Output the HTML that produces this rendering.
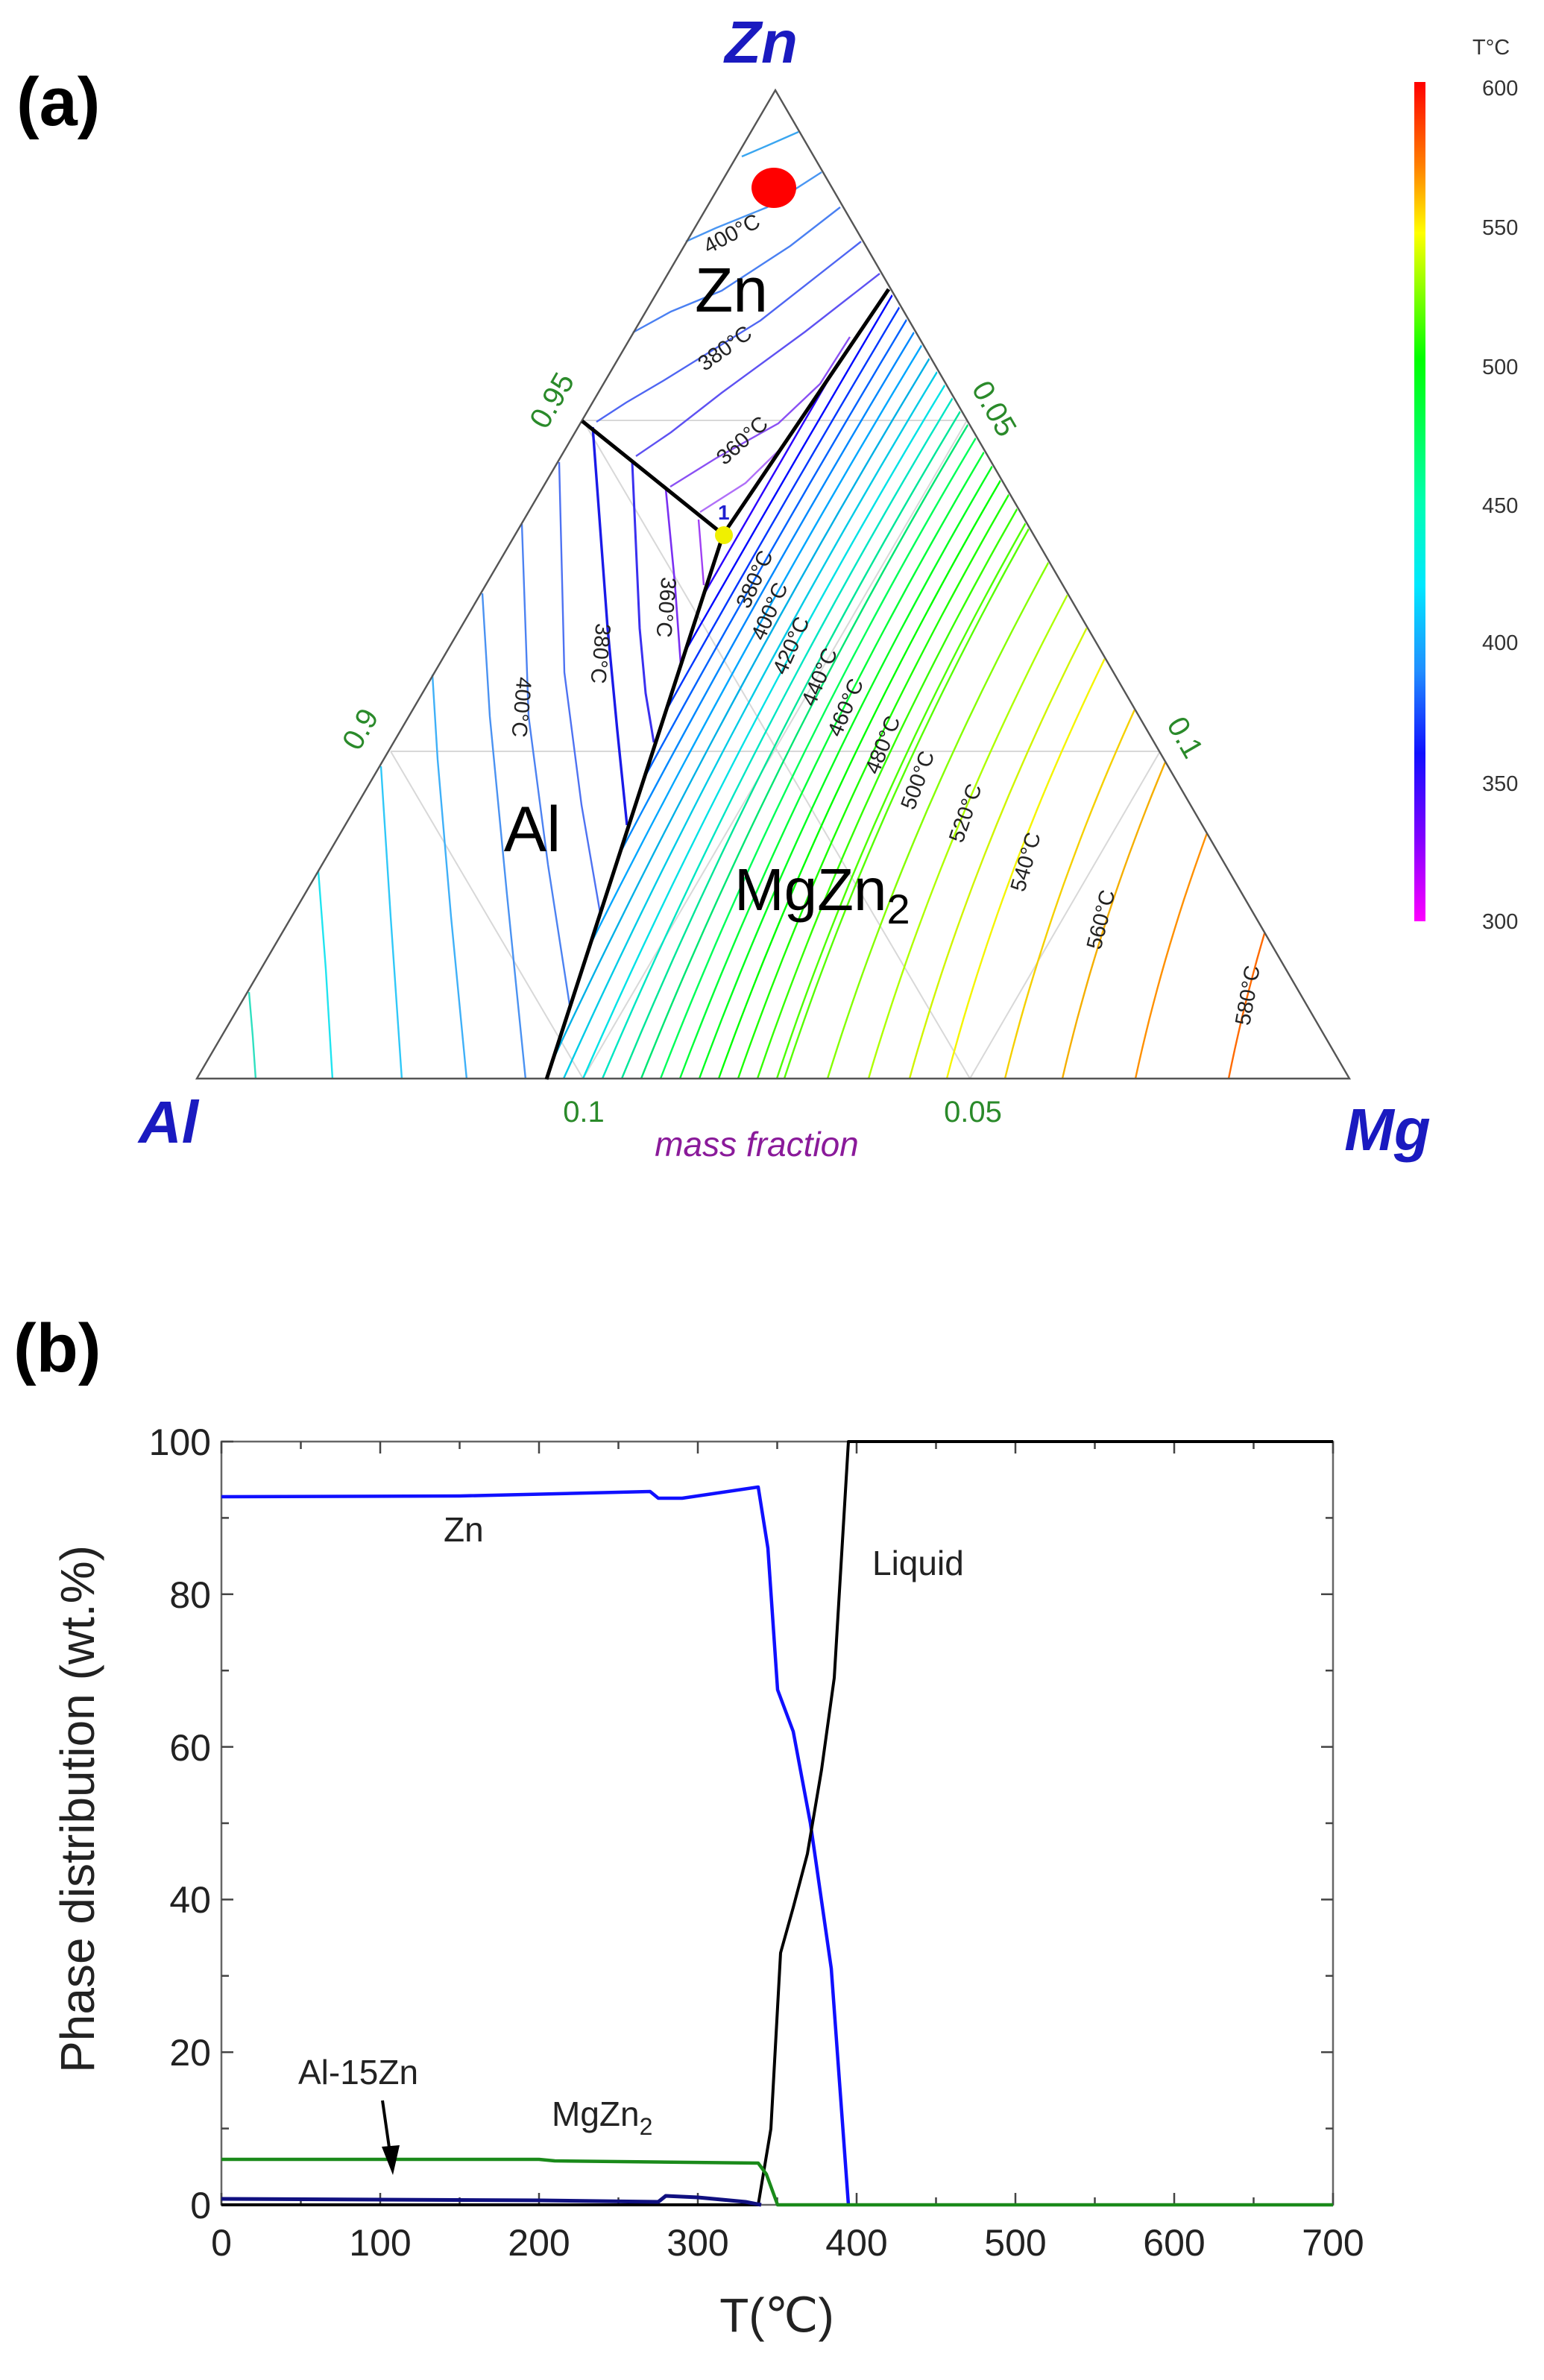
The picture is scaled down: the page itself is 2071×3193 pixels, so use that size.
<!DOCTYPE html>
<html><head><meta charset="utf-8"><style>
html,body{margin:0;padding:0;background:#fff;}
svg{display:block;}
text{font-family:"Liberation Sans",sans-serif;}
</style></head><body>
<svg id="s" width="2071" height="3193" viewBox="0 0 2071 3193" xmlns="http://www.w3.org/2000/svg">
<defs>
<linearGradient id="cb" x1="0" y1="0" x2="0" y2="1">
<stop offset="0" stop-color="#ff0000"/>
<stop offset="0.1" stop-color="#ff8000"/>
<stop offset="0.18" stop-color="#ffff00"/>
<stop offset="0.33" stop-color="#00ff00"/>
<stop offset="0.5" stop-color="#00ffb0"/>
<stop offset="0.6" stop-color="#00e8ff"/>
<stop offset="0.7" stop-color="#2090ff"/>
<stop offset="0.8" stop-color="#1010ff"/>
<stop offset="0.9" stop-color="#8000ff"/>
<stop offset="1" stop-color="#ff00ff"/>
</linearGradient>
<clipPath id="cm"><polygon points="733,1448 970,717 1192,388 1810,1447"/></clipPath>
</defs>

<text x="22" y="168" font-size="92" font-weight="bold">(a)</text>
<text x="18" y="1840" font-size="92" font-weight="bold">(b)</text>

<g stroke="#d8d8d8" stroke-width="2" fill="none">
<line x1="782" y1="564" x2="1297" y2="564"/>
<line x1="524" y1="1008" x2="1556" y2="1008"/>
<line x1="782" y1="1447" x2="524" y2="1008"/>
<line x1="782" y1="1447" x2="1297" y2="564"/>
<line x1="1301" y1="1447" x2="782" y2="564"/>
<line x1="1301" y1="1447" x2="1556" y2="1008"/>
</g>

<g id="mg" clip-path="url(#cm)" fill="none" stroke-width="2.4"></g>

<g fill="none" stroke-width="2.4">
<polyline stroke="#3aa6f0" points="995,210 1030,195 1071,177"/>
<polyline stroke="#4a96f2" points="920,324 960,306 1029,278 1102,231"/>
<polyline stroke="#4a80f2" points="849,446 900,418 968,390 1060,330 1127,278"/>
<polyline stroke="#4f66f2" points="800,566 840,540 891,510 1020,430 1155,324"/>
<polyline stroke="#5e52f2" points="853,612 900,580 968,527 1080,445 1180,367"/>
<polyline stroke="#8a50f4" points="899,653 960,615 1044,568 1100,515 1140,452"/>
<polyline stroke="#b070f8" points="939,687 1000,648 1052,597"/>
</g>

<g fill="none" stroke-width="2.4">
<polyline stroke="#30e0c0" points="334,1331 339,1390 343,1448"/>
<polyline stroke="#20e4f0" points="427,1169 437,1300 446,1448"/>
<polyline stroke="#30c8f8" points="511,1028 524,1230 539,1448"/>
<polyline stroke="#3fb0f8" points="580,905 587,1019 605,1230 626,1448"/>
<polyline stroke="#4a92f2" points="647,796 657,961 680,1200 705,1448"/>
<polyline stroke="#4c82f2" points="700,703 709,961 735,1160 764,1348"/>
<polyline stroke="#4e72f2" points="750,620 757,902 780,1080 805,1225"/>
<polyline stroke="#1a1ae8" stroke-width="3.4" points="795,573 815,843 828,980 841,1107"/>
<polyline stroke="#3a30f0" stroke-width="3" points="848,620 858,843 866,930 877,996"/>
<polyline stroke="#7a30f2" stroke-width="2.6" points="893,656 905,780 913,890"/>
<polyline stroke="#a040f4" points="937,697 944,785"/>
</g>

<polygon points="1040,121 264,1447 1810,1447" fill="none" stroke="#555" stroke-width="2.4"/>

<g stroke="#000" stroke-width="5" fill="none" stroke-linejoin="round">
<polyline points="1192,388 970,717 733,1448"/>
<polyline points="781,565 970,717"/>
</g>
<circle cx="971" cy="718" r="12" fill="#f0f000"/>
<text x="963" y="697" font-size="28" fill="#2020d0" font-weight="bold">1</text>
<ellipse cx="1038" cy="252" rx="30" ry="27" fill="#ff0000"/>

<g font-size="29" fill="#222" text-anchor="middle">
<text transform="translate(986,322) rotate(-28)">400°C</text>
<text transform="translate(978,475) rotate(-36)">380°C</text>
<text transform="translate(1002,598) rotate(-42)">360°C</text>
<text transform="translate(690,948) rotate(95)">400°C</text>
<text transform="translate(796,876) rotate(95)">380°C</text>
<text transform="translate(884,814) rotate(95)">360°C</text>
<text transform="translate(1021,781) rotate(-66)">380°C</text>
<text transform="translate(1041,824) rotate(-66)">400°C</text>
<text transform="translate(1070,870) rotate(-66)">420°C</text>
<text transform="translate(1108,912) rotate(-67)">440°C</text>
<text transform="translate(1143,953) rotate(-67)">460°C</text>
<text transform="translate(1193,1003) rotate(-68)">480°C</text>
<text transform="translate(1240,1050) rotate(-70)">500°C</text>
<text transform="translate(1304,1094) rotate(-71)">520°C</text>
<text transform="translate(1385,1159) rotate(-74)">540°C</text>
<text transform="translate(1486,1236) rotate(-76)">560°C</text>
<text transform="translate(1683,1337) rotate(-80)">580°C</text>
</g>

<text x="981" y="418" font-size="84" text-anchor="middle">Zn</text>
<text x="714" y="1142" font-size="86" text-anchor="middle">Al</text>
<text x="985" y="1221" font-size="80">MgZn<tspan font-size="56" dy="18">2</tspan></text>

<g fill="#1a1ac0" font-weight="bold" font-style="italic" font-size="80" text-anchor="middle">
<text x="1021" y="84">Zn</text>
<text x="226" y="1533">Al</text>
<text x="1861" y="1543">Mg</text>
</g>
<text x="1015" y="1551" font-size="46" font-style="italic" fill="#8a1a9a" text-anchor="middle">mass fraction</text>
<g fill="#2a8a2a" font-size="40" text-anchor="middle">
<text x="783" y="1505">0.1</text>
<text x="1305" y="1505">0.05</text>
<text transform="translate(752,544) rotate(-60)">0.95</text>
<text transform="translate(495,985) rotate(-60)">0.9</text>
<text transform="translate(1322,555) rotate(60)">0.05</text>
<text transform="translate(1578,996) rotate(60)">0.1</text>
</g>

<rect x="1897" y="110" width="15" height="1126" fill="url(#cb)"/>
<g font-size="29" fill="#333">
<text x="1975" y="73">T°C</text>
<text x="1988" y="128">600</text>
<text x="1988" y="315">550</text>
<text x="1988" y="502">500</text>
<text x="1988" y="688">450</text>
<text x="1988" y="872">400</text>
<text x="1988" y="1061">350</text>
<text x="1988" y="1246">300</text>
</g>

<rect x="297" y="1934" width="1491" height="1024" fill="none" stroke="#666" stroke-width="2.5"/>
<g id="ticks" stroke="#444" stroke-width="2.5"></g>
<g font-size="50" fill="#222">
<g text-anchor="end">
<text x="283" y="2976">0</text>
<text x="283" y="2771">20</text>
<text x="283" y="2566">40</text>
<text x="283" y="2362">60</text>
<text x="283" y="2157">80</text>
<text x="283" y="1952">100</text>
</g>
<g text-anchor="middle">
<text x="297" y="3026">0</text>
<text x="510" y="3026">100</text>
<text x="723" y="3026">200</text>
<text x="936" y="3026">300</text>
<text x="1149" y="3026">400</text>
<text x="1362" y="3026">500</text>
<text x="1575" y="3026">600</text>
<text x="1788" y="3026">700</text>
</g>
</g>
<text x="1042" y="3128" font-size="64" text-anchor="middle" fill="#222">T(℃)</text>
<text transform="translate(126,2427) rotate(-90)" font-size="64" text-anchor="middle" fill="#222">Phase distribution  (wt.%)</text>

<g fill="none" stroke-linejoin="round">
<polyline stroke="#006400" stroke-width="4" points="297,2958 1017,2958"/>
<polyline stroke="#1010ff" stroke-width="4.5" points="297,2008 617,2007 872,2001 883,2010 915,2010 1017,1995 1030,2077 1043,2267 1064,2323 1087,2446 1115,2641 1138,2958"/>
<polyline stroke="#000" stroke-width="4" points="297,2958 1017,2958 1034,2856 1047,2620 1064,2559 1083,2487 1102,2374 1119,2251 1138,1934 1788,1934"/>
<polyline stroke="#1a8a1a" stroke-width="4.5" points="297,2897 723,2897 744,2899 1017,2902 1028,2917 1043,2958 1788,2958"/>
<polyline stroke="#101080" stroke-width="5" points="297,2950 723,2952 883,2954 893,2946 936,2948 1000,2954 1021,2958"/>
</g>
<g font-size="46" fill="#222">
<text x="595" y="2068">Zn</text>
<text x="1170" y="2113">Liquid</text>
<text x="400" y="2796">Al-15Zn</text>
<text x="740" y="2852">MgZn<tspan font-size="32" dy="12">2</tspan></text>
</g>
<line x1="513" y1="2818" x2="524" y2="2895" stroke="#000" stroke-width="4"/>
<polygon points="512,2880 536,2878 527,2918" fill="#000"/>
</svg>
<script>
(function(){
var NS="http://www.w3.org/2000/svg";
function interp(p,v){if(v<=p[0][0])return p[0][1];for(var i=0;i<p.length-1;i++){if(v<=p[i+1][0]){var f=(v-p[i][0])/(p[i+1][0]-p[i][0]);return p[i][1]+f*(p[i+1][1]-p[i][1]);}}return p[p.length-1][1];}
var hp=[[300,300],[340,262],[360,240],[400,205],[430,180],[470,130],[500,100],[540,60],[580,25],[600,0]];
var tmap=[[540,335],[637,380],[688,400],[880,460],[1052,500],[1270,540],[1348,550],[1425,560],[1523,570],[1648,580]];
var g=document.getElementById("mg");
var xs=[];for(var x=548;x<1052;x+=26)xs.push(x);
[1052,1110,1165,1220,1270,1348,1425,1523,1648].forEach(function(v){xs.push(v);});
xs.forEach(function(x0){
var T=interp(tmap,x0);
var f=Math.max(0,Math.min(1,(T-340)/240));
var tn=0.58-f*0.38,a=f*2.4e-4;var pts=[];
for(var d=0;d<=1200;d+=20){pts.push((x0+tn*d+a*d*d).toFixed(1)+","+(1447-d));}
var pl=document.createElementNS(NS,"polyline");pl.setAttribute("points",pts.join(" "));
var h=interp(hp,T);var l=(h>150&&h<200)?45:50;if(h<70&&h>40)l=48;
pl.setAttribute("stroke","hsl("+h.toFixed(0)+",100%,"+l+"%)");g.appendChild(pl);});
var tk=document.getElementById("ticks");
function ln(x1,y1,x2,y2){var e=document.createElementNS(NS,"line");e.setAttribute("x1",x1);e.setAttribute("y1",y1);e.setAttribute("x2",x2);e.setAttribute("y2",y2);tk.appendChild(e);}
for(var v=0;v<=100;v+=10){var y=2958-10.24*v,L=(v%20==0)?16:10;ln(297,y,297+L,y);ln(1788,y,1788-L,y);}
for(var T2=0;T2<=700;T2+=50){var xx=297+2.13*T2,L2=(T2%100==0)?16:10;ln(xx,2958,xx,2958-L2);ln(xx,1934,xx,1934+L2);}
})();
</script>
</body></html>
